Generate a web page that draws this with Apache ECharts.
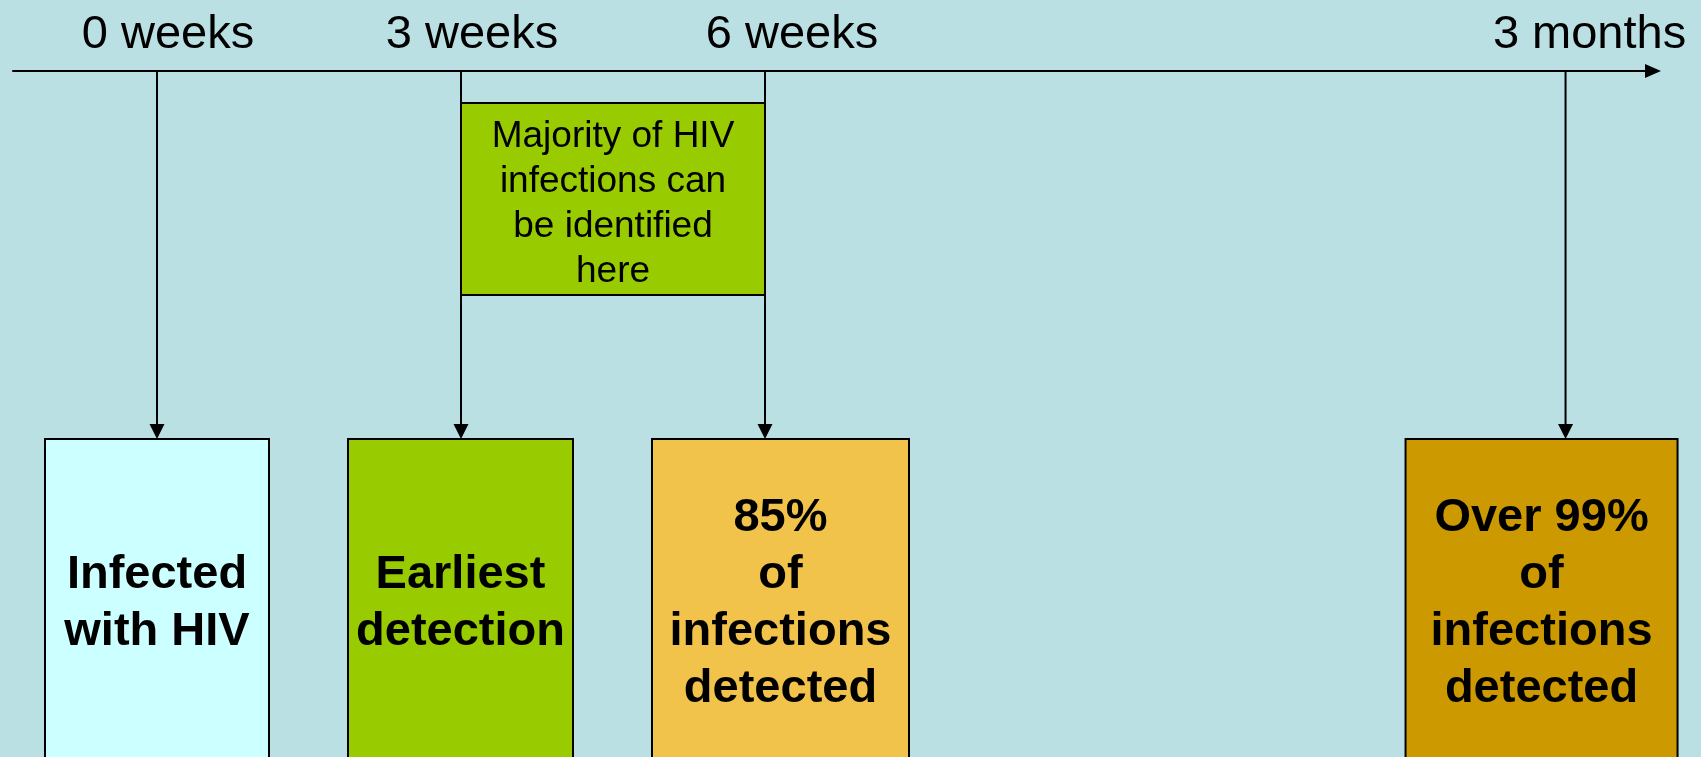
<!DOCTYPE html>
<html><head><meta charset="utf-8">
<script src="https://cdn.jsdelivr.net/npm/echarts@6/dist/echarts.min.js"></script>
<style>html,body{margin:0;padding:0;background:#BBE0E3}#c{width:1701px;height:757px}</style>
</head><body><div id="c"></div>
<script>
// ---- data ----
const milestoneLabels = ['0 weeks', '3 weeks', '6 weeks', '3 months'];
const milestoneWeeks = [0, 3, 6, 13.9]; // "3 months" sits at its schematic position on the timeline
const outcomeTexts = ['Infected\nwith HIV', 'Earliest\ndetection', '85%\nof\ninfections\ndetected', 'Over 99%\nof\ninfections\ndetected'];
const windowRange = [3, 6];
const windowText = 'Majority of HIV\ninfections can\nbe identified\nhere';

// ---- styles / layout ----
const FONT = '"Liberation Sans", Arial, Helvetica, sans-serif';
const boxColors = ['#CCFFFF', '#99CC00', '#F1C34A', '#CC9900'];
const boxExtents = [[-112, 112], [-113, 112], [-113, 144], [-160, 112]];
const labelShift = [11, 11, 27, 24];

const rich = {};
labelShift.forEach((s, i) => {
  rich['l' + i] = { fontSize: 47, fontFamily: FONT, color: '#000', padding: [0, 0, 0, 2 * s] };
});

function nearestIdx(v) {
  let b = 0;
  milestoneWeeks.forEach((w, i) => { if (Math.abs(w - v) < Math.abs(milestoneWeeks[b] - v)) b = i; });
  return b;
}

const chart = echarts.init(document.getElementById('c'), null, { renderer: 'canvas' });
chart.setOption({
  backgroundColor: '#BBE0E3',
  animation: false,
  grid: { left: 13, right: 48, top: 71, bottom: 0 },
  xAxis: {
    type: 'value', position: 'top', min: -1.421, max: 14.763,
    splitLine: { show: false }, axisTick: { show: false },
    axisLine: { show: true, onZero: false, lineStyle: { color: '#000', width: 2 }, symbol: ['none', 'triangle'], symbolSize: [14, 16] },
    axisLabel: {
      customValues: milestoneWeeks, margin: 12, fontSize: 47, fontFamily: FONT, color: '#000',
      formatter: v => { const i = nearestIdx(v); return '{l' + i + '|' + milestoneLabels[i] + '}'; },
      rich: rich
    }
  },
  yAxis: { type: 'value', min: 0, max: 1, show: false },
  series: [
    {
      type: 'custom', z: 2, clip: false,
      data: milestoneWeeks.map(w => [w, 0]),
      renderItem: function (params, api) {
        const i = params.dataIndex;
        const cs = params.coordSys;
        const x = api.coord([api.value(0), 0])[0];
        const axisY = cs.y;
        const top = axisY + 368;
        const bottom = cs.y + cs.height + 4;
        const l = boxExtents[i][0], r = boxExtents[i][1];
        return {
          type: 'group', children: [
            { type: 'line', shape: { x1: x, y1: axisY, x2: x, y2: top - 12 }, style: { stroke: '#000', lineWidth: 2 } },
            { type: 'polygon', shape: { points: [[x - 7.5, top - 15], [x + 7.5, top - 15], [x, top]] }, style: { fill: '#000' } },
            { type: 'rect', shape: { x: x + l, y: top, width: r - l, height: bottom - top }, style: { fill: boxColors[i], stroke: '#000', lineWidth: 2 } },
            { type: 'text', style: { x: x + (l + r) / 2, y: (top + bottom) / 2 + 4, text: outcomeTexts[i], align: 'center', verticalAlign: 'middle', fill: '#000', fontSize: 47, fontWeight: 'bold', fontFamily: FONT, lineHeight: 57 } }
          ]
        };
      }
    },
    {
      type: 'custom', z: 3, clip: false,
      data: [[windowRange[0], windowRange[1]]],
      encode: { x: [0, 1] },
      renderItem: function (params, api) {
        const cs = params.coordSys;
        const x1 = api.coord([api.value(0), 0])[0];
        const x2 = api.coord([api.value(1), 0])[0];
        const y1 = cs.y + 32, y2 = cs.y + 224;
        return {
          type: 'group', children: [
            { type: 'rect', shape: { x: x1, y: y1, width: x2 - x1, height: y2 - y1 }, style: { fill: '#99CC00', stroke: '#000', lineWidth: 2 } },
            { type: 'text', style: { x: (x1 + x2) / 2, y: (y1 + y2) / 2 + 5, text: windowText, align: 'center', verticalAlign: 'middle', fill: '#000', fontSize: 37, fontFamily: FONT, lineHeight: 45 } }
          ]
        };
      }
    }
  ]
});
</script>
</body></html>
